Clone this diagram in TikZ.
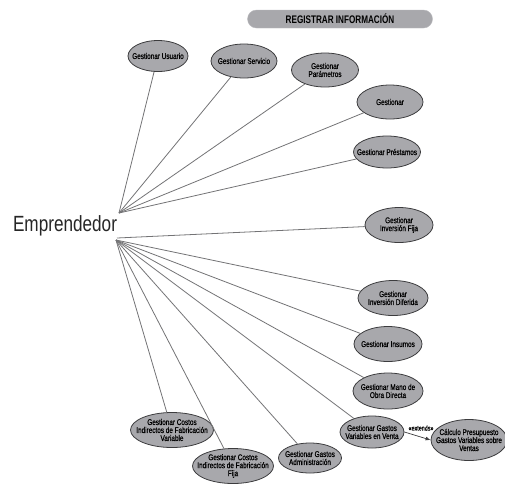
\documentclass[tikz,border=0pt]{standalone}
\usepackage{fontspec}
\setmainfont{Liberation Sans}
\newfontfamily\narrowfont[FakeStretch=0.77,FakeBold=0.6]{Liberation Sans}
\newfontfamily\titlefont[FakeStretch=0.74]{Liberation Sans}
\newfontfamily\actorfont[FakeStretch=0.78]{Liberation Sans}
\usetikzlibrary{shapes.geometric,arrows.meta}
\definecolor{ucfill}{RGB}{168,168,172}
\definecolor{ucline}{RGB}{60,60,62}
\definecolor{assoc}{RGB}{115,115,117}
\begin{document}
\begin{tikzpicture}[x=1pt,y=-1pt,
  usecase/.style 2 args={ellipse,draw=ucline,fill=ucfill,line width=0.8pt,inner sep=0pt,
    minimum width=#1,minimum height=#2},
  uctext/.style={align=center,inner sep=0pt,font=\narrowfont\fontsize{8.3}{8}\selectfont},
  link/.style={draw=assoc,line width=0.8pt}]
\useasboundingbox (0,0) rectangle (505,483);

% package title
\node[rounded corners=9pt,fill=ucfill,draw=ucfill!80!white,minimum width=185pt,minimum height=18pt,
  font=\titlefont\bfseries\fontsize{11}{12}\selectfont] (title) at (340,19) {REGISTRAR INFORMACIÓN};

% actor and the two points where its associations meet
\node[font=\actorfont\fontsize{22}{24}\selectfont,text=black!85] (actor) at (65,226) {Emprendedor};
\coordinate (au) at (119,213);
\coordinate (al) at (116,240);
\coordinate (am) at (117,238);

% use cases (fixed-size ellipses, captions centred inside)
\newcommand\usecasenode[5]{%
  \node[usecase={#3}{#4}] (#1) at #2 {};
  \node[uctext] (#1-t) at (#1.center) {#5};}
\usecasenode{usuario}{(158,56)}{60pt}{31pt}{Gestionar Usuario}
\usecasenode{servicio}{(244,61)}{66pt}{34pt}{Gestionar Servicio}
\usecasenode{param}{(325,70)}{67pt}{34pt}{Gestionar\\Parámetros}
\usecasenode{gest}{(390,102)}{66pt}{34pt}{Gestionar}
\usecasenode{prest}{(387,152)}{67pt}{32pt}{Gestionar Préstamos}
\usecasenode{invfija}{(399,225)}{68pt}{35pt}{Gestionar\\Inversión Fija}
\usecasenode{invdif}{(393,298)}{70pt}{35pt}{Gestionar\\Inversión Diferida}
\usecasenode{insumos}{(388,344)}{68pt}{35pt}{Gestionar Insumos}
\usecasenode{mano}{(388,391)}{70pt}{36pt}{Gestionar Mano de\\Obra Directa}
\usecasenode{gvv}{(372,432)}{64pt}{32pt}{Gestionar Gastos\\Variables en Venta}
\usecasenode{calc}{(469,440)}{76pt}{41pt}{Cálculo Presupuesto\\Gastos Variables sobre\\Ventas}
\usecasenode{cifv}{(172,430)}{83pt}{35pt}{Gestionar Costos\\Indirectos de Fabricación\\Variable}
\usecasenode{ciff}{(233,466)}{81pt}{35pt}{Gestionar Costos\\Indirectos de Fabricación\\Fija}
\usecasenode{gadm}{(310,458)}{63pt}{30pt}{Gestionar Gastos\\Administración}

% associations
\foreach \uc in {usuario,servicio,param,gest,prest}
  \draw[link] (au) -- (\uc);
\draw[link] (am) -- (invfija);
\foreach \uc in {invdif,insumos,mano,gvv,gadm,ciff,cifv}
  \draw[link] (al) -- (\uc);

% extend relation
\draw[draw=ucline,line width=0.7pt,-{Latex[length=5pt,width=4pt]}]
  (gvv.east) -- (calc.west);
\node[font=\narrowfont\fontsize{7}{7}\selectfont,inner sep=0pt] (ext) at (421,428) {«extends»};
\end{tikzpicture}
\end{document}
